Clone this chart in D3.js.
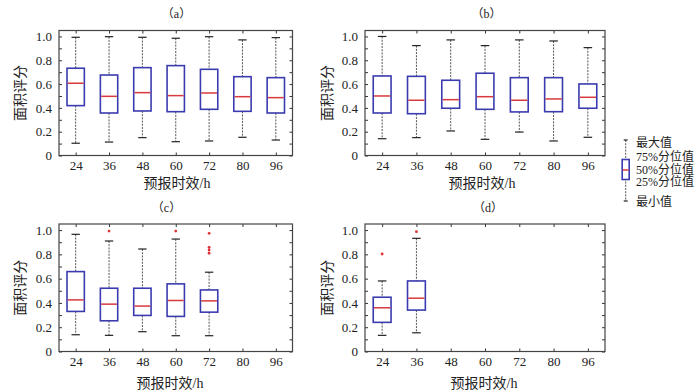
<!DOCTYPE html>
<html>
<head>
<meta charset="utf-8">
<script src="https://cdn.jsdelivr.net/npm/d3@7"></script>
<style>
  body { margin: 0; background: #fff; }
  svg { display: block; }
  .tick text { font-family: "Liberation Serif", "Noto Sans CJK SC", serif; font-size: 13px; fill: #222; }
  .tick line { stroke: #333; }
  .lbl { font-family: "Liberation Serif", "Noto Sans CJK SC", serif; fill: #222; }
</style>
</head>
<body>
<svg id="chart" width="700" height="392"></svg>
<script>
// lead times on x axis
const leadTimes = ["24", "36", "48", "60", "72", "80", "96"];
const yTickVals = [0, 0.2, 0.4, 0.6, 0.8, 1.0];
const yTickLabels = ["0", "0.2", "0.4", "0.6", "0.8", "1.0"];
const panelTitles = ["（a）", "（b）", "（c）", "（d）"];
const xTitle = "预报时效/h";
const yTitle = "面积评分";
const legendLabels = ["最大值", "75%分位值", "50%分位值", "25%分位值", "最小值"];

// [min, q1, median, q3, max] per lead time
const statsA = [
  [0.103, 0.419, 0.607, 0.733, 0.993],
  [0.113, 0.357, 0.497, 0.676, 0.998],
  [0.150, 0.374, 0.528, 0.738, 0.993],
  [0.116, 0.368, 0.503, 0.755, 0.985],
  [0.122, 0.388, 0.525, 0.724, 0.998],
  [0.153, 0.371, 0.494, 0.662, 0.971],
  [0.130, 0.357, 0.486, 0.654, 0.990]
];
const statsB = [
  [0.141, 0.357, 0.500, 0.668, 1.000],
  [0.150, 0.351, 0.464, 0.665, 0.923],
  [0.206, 0.397, 0.469, 0.632, 0.971],
  [0.136, 0.388, 0.494, 0.691, 0.923],
  [0.197, 0.366, 0.464, 0.654, 0.971],
  [0.122, 0.368, 0.475, 0.654, 0.962],
  [0.153, 0.397, 0.489, 0.601, 0.906]
];
const statsC = [
  [0.138, 0.330, 0.425, 0.658, 0.965],
  [0.133, 0.253, 0.390, 0.521, 0.910],
  [0.163, 0.297, 0.374, 0.521, 0.844],
  [0.130, 0.289, 0.420, 0.557, 0.926],
  [0.130, 0.324, 0.417, 0.507, 0.653]
];
const statsD = [
  [0.133, 0.240, 0.360, 0.447, 0.581],
  [0.154, 0.341, 0.439, 0.581, 0.932]
];
const outliersC = [[], [0.992], [], [0.992], [0.973, 0.858, 0.836, 0.809]];
const outliersD = [[0.803], [0.987]];

const panels = [
  {x0: 59, x1: 292.5, y0: 30.5, y1: 155.5, stats: statsA, out: [], tx: 176.5, ty: 14, xl: 177, yl: 20.5, xly: 183},
  {x0: 365, x1: 605, y0: 30.5, y1: 155.5, stats: statsB, out: [], tx: 486.5, ty: 14, xl: 482, yl: 327, xly: 183},
  {x0: 59, x1: 292.5, y0: 224, y1: 351.5, stats: statsC, out: outliersC, tx: 166.5, ty: 208, xl: 170, yl: 20.5, xly: 383},
  {x0: 365, x1: 605, y0: 224, y1: 351.5, stats: statsD, out: outliersD, tx: 488, ty: 208, xl: 484, yl: 327, xly: 383}
];

const svg = d3.select("#chart");
const boxColor = "#3b3bb0", medColor = "#d8393c", whiskColor = "#555";

panels.forEach(function(p, i) {
  const x = d3.scalePoint().domain(leadTimes).range([p.x0, p.x1]).padding(0.5);
  const y = d3.scaleLinear().domain([0, 1.05]).range([p.y1, p.y0]);
  const step = x.step();
  const bw = step * 0.52, cw = step * 0.25;
  const minor = d3.range(0, 11).map(d => d / 10);
  const g = svg.append("g");

  // axes (ticks inward, mirrored)
  g.append("g").attr("transform", "translate(" + p.x0 + ",0)")
    .call(d3.axisLeft(y).tickValues(minor).tickSize(-3).tickPadding(7)
      .tickFormat(d => { const k = yTickVals.findIndex(v => Math.abs(v - d) < 1e-6); return k >= 0 ? yTickLabels[k] : ""; }))
    .call(s => s.select(".domain").remove());
  g.append("g").attr("transform", "translate(" + p.x1 + ",0)")
    .call(d3.axisRight(y).tickValues(minor).tickSize(-3).tickFormat(""))
    .call(s => s.select(".domain").remove());
  g.append("g").attr("transform", "translate(0," + p.y1 + ")")
    .call(d3.axisBottom(x).tickSize(-3).tickPadding(5))
    .call(s => s.select(".domain").remove());
  g.append("g").attr("transform", "translate(0," + p.y0 + ")")
    .call(d3.axisTop(x).tickSize(-3).tickFormat(""))
    .call(s => s.select(".domain").remove());

  g.append("rect").attr("x", p.x0).attr("y", p.y0)
    .attr("width", p.x1 - p.x0).attr("height", p.y1 - p.y0)
    .attr("fill", "none").attr("stroke", "#444").attr("stroke-width", 1.2);

  const boxes = g.selectAll(".bx").data(p.stats).enter().append("g").attr("class", "bx");
  const cx = (d, j) => x(leadTimes[j]);

  // whiskers
  boxes.append("line").attr("x1", cx).attr("x2", cx)
    .attr("y1", d => y(d[4])).attr("y2", d => y(d[3]))
    .attr("stroke", whiskColor).attr("stroke-dasharray", "2,1.2");
  boxes.append("line").attr("x1", cx).attr("x2", cx)
    .attr("y1", d => y(d[1])).attr("y2", d => y(d[0]))
    .attr("stroke", whiskColor).attr("stroke-dasharray", "2,1.2");
  // caps
  [0, 4].forEach(function(k) {
    boxes.append("line")
      .attr("x1", (d, j) => cx(d, j) - cw / 2).attr("x2", (d, j) => cx(d, j) + cw / 2)
      .attr("y1", d => y(d[k])).attr("y2", d => y(d[k]))
      .attr("stroke", "#222").attr("stroke-width", 1.2);
  });
  // box
  boxes.append("rect")
    .attr("x", (d, j) => cx(d, j) - bw / 2).attr("width", bw)
    .attr("y", d => y(d[3])).attr("height", d => y(d[1]) - y(d[3]))
    .attr("fill", "#fff").attr("stroke", boxColor).attr("stroke-width", 1.6);
  // median
  boxes.append("line")
    .attr("x1", (d, j) => cx(d, j) - bw / 2 + 0.8).attr("x2", (d, j) => cx(d, j) + bw / 2 - 0.8)
    .attr("y1", d => y(d[2])).attr("y2", d => y(d[2]))
    .attr("stroke", medColor).attr("stroke-width", 1.5);

  // outliers
  p.out.forEach(function(vals, j) {
    g.selectAll(null).data(vals).enter().append("circle")
      .attr("cx", x(leadTimes[j])).attr("cy", d => y(d)).attr("r", 1.4)
      .attr("fill", "#e03030");
  });

  g.append("text").attr("class", "lbl").attr("x", p.tx).attr("y", p.ty)
    .attr("text-anchor", "middle").attr("dy", "0.35em").attr("font-size", 12)
    .text(panelTitles[i]);
  g.append("text").attr("class", "lbl").attr("x", p.xl).attr("y", p.xly)
    .attr("text-anchor", "middle").attr("dy", "0.35em").attr("font-size", 14)
    .text(xTitle);
  g.append("text").attr("class", "lbl")
    .attr("transform", "translate(" + p.yl + "," + ((p.y0 + p.y1) / 2) + ") rotate(-90)")
    .attr("text-anchor", "middle").attr("dy", "0.35em").attr("font-size", 14)
    .text(yTitle);
});

// legend
const lg = svg.append("g");
const ly = d3.scaleLinear().domain([0, 4]).range([140, 201]);
const lcx = 625.7;
lg.append("line").attr("x1", lcx).attr("x2", lcx).attr("y1", ly(0)).attr("y2", ly(4))
  .attr("stroke", whiskColor).attr("stroke-dasharray", "2,1.2");
[0, 4].forEach(k => lg.append("line").attr("x1", lcx - 2).attr("x2", lcx + 2)
  .attr("y1", ly(k)).attr("y2", ly(k)).attr("stroke", "#222").attr("stroke-width", 1.2));
lg.append("rect").attr("x", lcx - 3.5).attr("y", 159.5).attr("width", 7).attr("height", 20)
  .attr("fill", "#fff").attr("stroke", boxColor).attr("stroke-width", 1.6);
lg.append("line").attr("x1", lcx - 3).attr("x2", lcx + 3).attr("y1", 170).attr("y2", 170)
  .attr("stroke", medColor).attr("stroke-width", 1.5);
const legendY = [143, 156.5, 169.3, 182, 202];
lg.selectAll(".lt").data(legendLabels).enter().append("text").attr("class", "lbl")
  .attr("x", 636).attr("y", (d, k) => legendY[k]).attr("dy", "0.35em")
  .attr("font-size", 12).text(d => d);
</script>
</body>
</html>
